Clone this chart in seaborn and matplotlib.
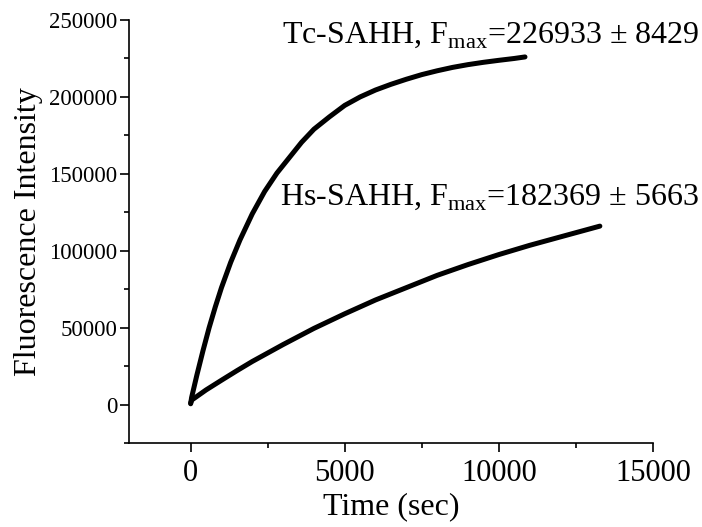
import pandas as pd
import matplotlib as mpl
import matplotlib.pyplot as plt
import seaborn as sns
from matplotlib.ticker import MultipleLocator

# values
tc_time = [0, 30, 200, 400, 600, 800, 1000, 1300, 1600, 2000, 2400, 2800, 3200,
           3600, 4000, 4500, 5000, 5500, 6000, 6500, 7000, 7500, 8000, 8500,
           9000, 9500, 10000, 10500, 10850]
tc_fluor = [500, 4500, 19000, 35000, 50000, 63500, 76000, 92500, 107000, 124000,
            138500, 150500, 160500, 170500, 179000, 187000, 194500, 200000, 204500,
            208200, 211500, 214500, 217000, 219200, 221000, 222500, 223800, 225000,
            226000]

hs_time = [0, 40, 500, 1000, 1500, 2000, 3000, 4000, 5000, 6000, 7000, 8000,
           9000, 10000, 11000, 12000, 13280]
hs_fluor = [1000, 3000, 9500, 15800, 22000, 28000, 39000, 49500, 59000, 68000,
            76000, 84000, 91000, 97500, 103500, 109000, 116000]

tc_label = "Tc-SAHH, F$_{\\mathrm{max}}$=226933 \u00b1 8429"
hs_label = "Hs-SAHH, F$_{\\mathrm{max}}$=182369 \u00b1 5663"

sns.set_style("ticks")
plt.rcParams["font.family"] = ["Liberation Serif", "DejaVu Serif"]
plt.rcParams["mathtext.fontset"] = "custom"
plt.rcParams["mathtext.rm"] = "Liberation Serif"
mpl.rcParams["text.color"] = "black"
mpl.rcParams["axes.labelcolor"] = "black"
mpl.rcParams["xtick.color"] = "black"
mpl.rcParams["ytick.color"] = "black"

tc = pd.DataFrame({"time": tc_time, "fluor": tc_fluor})
hs = pd.DataFrame({"time": hs_time, "fluor": hs_fluor})

fig = plt.figure(figsize=(7.02, 5.27), dpi=100)
ax = fig.add_axes([0.1838, 0.1594, 0.930 - 0.1838, 0.962 - 0.1594])

sns.lineplot(data=tc, x="time", y="fluor", color="black", linewidth=3.6, ax=ax)
sns.lineplot(data=hs, x="time", y="fluor", color="black", linewidth=3.6, ax=ax)

ax.set_xlim(-2000, 15000)
ax.set_ylim(-25000, 250000)
ax.xaxis.set_minor_locator(MultipleLocator(2500))
ax.yaxis.set_minor_locator(MultipleLocator(25000))
ax.set_xticks([0, 5000, 10000, 15000])
ax.set_yticks([0, 50000, 100000, 150000, 200000, 250000])

ax.tick_params(axis="both", which="major", direction="out", length=6.5, width=1.2)
ax.tick_params(axis="both", which="minor", direction="out", length=3.5, width=1.2)
ax.tick_params(axis="x", which="major", labelsize=22, pad=5)
ax.tick_params(axis="y", which="major", labelsize=16.5, pad=2)

for s in ["left", "bottom"]:
    ax.spines[s].set_linewidth(1.2)
    ax.spines[s].set_color("black")
sns.despine(ax=ax)

ax.set_xlabel("Time (sec)", fontsize=23, labelpad=3)
ax.set_ylabel("Fluorescence Intensity", fontsize=23, labelpad=4)

ax.text(2955, 235000, tc_label, fontsize=23, va="baseline", ha="left")
ax.text(2890, 129900, hs_label, fontsize=23, va="baseline", ha="left")

plt.savefig("out.png", dpi=100)
plt.close()
